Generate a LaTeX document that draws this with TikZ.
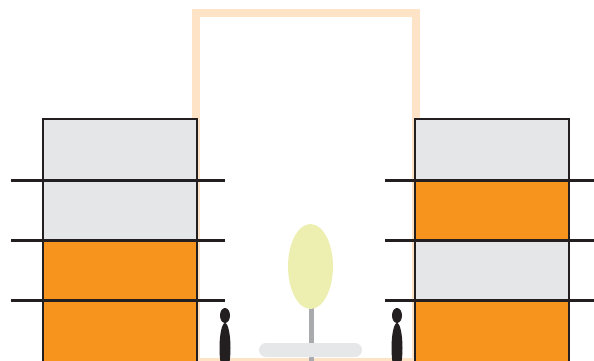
\documentclass[tikz,border=0pt]{standalone}
\begin{document}
\begin{tikzpicture}[x=1pt,y=-1pt,
  line join=miter,
  frame/.style={draw=peach, line width=8pt},
  floorgray/.style={fill=panelgray},
  floororange/.style={fill=warmorange},
  wall/.style={draw=ink, line width=2pt},
  slab/.style={draw=ink, line width=3pt},
  person/.style={fill=ink},
]
\definecolor{peach}{HTML}{FFE3C6}
\definecolor{panelgray}{HTML}{E5E6E8}
\definecolor{warmorange}{HTML}{F7941E}
\definecolor{ink}{HTML}{231F20}
\definecolor{leaf}{HTML}{EDEFB1}
\definecolor{trunkgray}{HTML}{A8AAAD}
\definecolor{benchgray}{HTML}{E6E7E8}

\useasboundingbox (0,0) rectangle (594,360);

% open frame between the two blocks
\draw[frame] (196,366) -- (196,13) -- (416,13) -- (416,366);
\draw[frame] (196,361.5) -- (416,361.5);

% left block
\fill[floorgray]   (42.5,119) rectangle (197,180);
\fill[floorgray]   (42.5,180) rectangle (197,240);
\fill[floororange] (42.5,240) rectangle (197,300);
\fill[floororange] (42.5,300) rectangle (197,362);
\draw[wall] (42.5,362) -- (42.5,119) -- (197,119) -- (197,362);

% right block
\fill[floorgray]   (415,119) rectangle (569,180);
\fill[floororange] (415,180) rectangle (569,240);
\fill[floorgray]   (415,240) rectangle (569,300);
\fill[floororange] (415,300) rectangle (569,362);
\draw[wall] (415,362) -- (415,119) -- (569,119) -- (569,362);

% floor slabs
\foreach \yy in {180.5,240.5,300.5} {
  \draw[slab] (11,\yy) -- (225,\yy);
  \draw[slab] (385,\yy) -- (594,\yy);
}

% tree and bench
\fill[trunkgray] (308.5,300) rectangle (313.5,362);
\fill[leaf] (310.5,266.5) ellipse [x radius=22.5, y radius=42.5];
\fill[benchgray, rounded corners=7pt] (259,343) rectangle (362,357);

% two figures
\foreach \px in {225,397} {
  \fill[person] (\px,315.5) ellipse [x radius=5, y radius=7.5];
  \fill[person] (\px,348) ellipse [x radius=5.5, y radius=25];
}
\end{tikzpicture}
\end{document}
